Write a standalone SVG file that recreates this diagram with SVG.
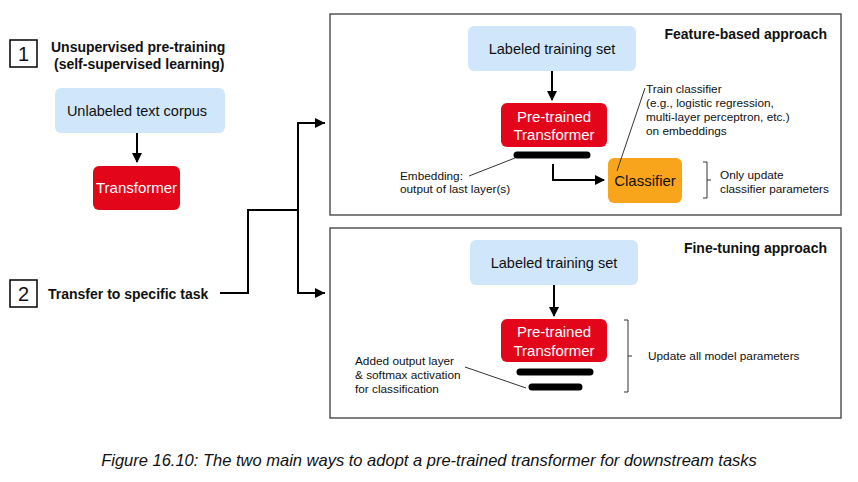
<svg xmlns="http://www.w3.org/2000/svg" width="858" height="482" viewBox="0 0 858 482">
<style>
text{font-family:"Liberation Sans",Arial,sans-serif;fill:#111}
.b{font-weight:bold;font-size:14px}
.s{font-size:11.8px}
.blue{fill:#cfe6fb}
.red{fill:#e3061b}
.wt{fill:#fff;font-size:15px;text-anchor:middle}
.pane{fill:#fff;stroke:#555;stroke-width:1.5}
.ln{fill:none;stroke:#000;stroke-width:2}
.thin{fill:none;stroke:#333;stroke-width:1}
.bar{stroke:#000;stroke-width:7;stroke-linecap:round}
</style>
<defs><marker id="ah" viewBox="0 0 10 10" refX="9" refY="5" markerWidth="5" markerHeight="5" orient="auto"><path d="M0,0L10,5L0,10z" fill="#000"/></marker></defs>
<rect width="858" height="482" fill="#fff"/>
<rect class="pane" x="330" y="14" width="511" height="201"/>
<rect class="pane" x="330" y="228" width="511" height="190"/>
<g id="step1"><rect x="10" y="40" width="27" height="27" fill="none" stroke="#000" stroke-width="1.5"/><text x="23.5" y="61" font-size="20" text-anchor="middle">1</text>
<text class="b" x="51" y="52">Unsupervised pre-training</text><text class="b" x="54" y="69">(self-supervised learning)</text></g>
<g id="corpus"><rect class="blue" x="55" y="88" width="170" height="45" rx="6"/><text x="137" y="116" font-size="14.5" text-anchor="middle">Unlabeled text corpus</text></g>
<g id="transformer"><rect class="red" x="93" y="166" width="87" height="44" rx="6"/><text class="wt" x="136.5" y="193" font-size="14">Transformer</text></g>
<g id="step2"><rect x="10" y="280" width="27" height="27" fill="none" stroke="#000" stroke-width="1.5"/><text x="23.5" y="301" font-size="20" text-anchor="middle">2</text>
<text class="b" x="48" y="299">Transfer to specific task</text></g>
<g id="fb"><text class="b" x="827" y="39" text-anchor="end">Feature-based approach</text>
<rect class="blue" x="468" y="26" width="168" height="45" rx="6"/><text x="552" y="54" font-size="14.5" text-anchor="middle">Labeled training set</text>
<rect class="red" x="501" y="103" width="106" height="44" rx="6"/><text class="wt" x="554" y="122">Pre-trained</text><text class="wt" x="554" y="140">Transformer</text>
<line class="bar" x1="517" y1="155" x2="587" y2="155"/>
<rect x="608" y="158" width="74" height="45" rx="6" fill="#f8a51c"/><text x="645" y="186" font-size="15" text-anchor="middle">Classifier</text>
<text class="s" x="400" y="180">Embedding:</text><text class="s" x="400" y="193">output of last layer(s)</text>
<text class="s" x="646" y="93">Train classifier</text><text class="s" x="646" y="107">(e.g., logistic regression,</text><text class="s" x="646" y="121">multi-layer perceptron, etc.)</text><text class="s" x="646" y="135">on embeddings</text>
<path class="thin" d="M703,162h4v36h-4M707,180h4"/>
<text class="s" x="720" y="179">Only update</text><text class="s" x="720" y="193">classifier parameters</text>
<path class="thin" d="M469,176L515,158M617,171L645,88"/></g>
<g id="ft"><text class="b" x="827" y="253" text-anchor="end">Fine-tuning approach</text>
<rect class="blue" x="470" y="240" width="168" height="45" rx="6"/><text x="554" y="268" font-size="14.5" text-anchor="middle">Labeled training set</text>
<rect class="red" x="501" y="319" width="106" height="43" rx="6"/><text class="wt" x="554" y="337">Pre-trained</text><text class="wt" x="554" y="356">Transformer</text>
<line class="bar" x1="520" y1="372" x2="590" y2="372"/><line class="bar" x1="532" y1="387" x2="579" y2="387"/>
<path class="thin" d="M624,320h4v72h-4M628,356h4"/>
<text class="s" x="648" y="360">Update all model parameters</text>
<text class="s" x="355" y="365">Added output layer</text><text class="s" x="355" y="379">&amp; softmax activation</text><text class="s" x="355" y="393">for classification</text>
<path class="thin" d="M465,367L526,388"/></g>
<g id="connectors">
<path class="ln" d="M137,133V162" marker-end="url(#ah)"/>
<path class="ln" d="M552,71V100" marker-end="url(#ah)"/>
<path class="ln" d="M553,164V180H604" marker-end="url(#ah)"/>
<path class="ln" d="M554,285V316" marker-end="url(#ah)"/>
<path class="ln" d="M220,293H248V210H298"/>
<path class="ln" d="M325,123H298V293H325"/>
<path class="ln" d="M298,123H324" marker-end="url(#ah)"/>
<path class="ln" d="M298,293H324" marker-end="url(#ah)"/>
</g>
<text x="429" y="466" font-size="16.5" font-style="italic" text-anchor="middle" font-family="'Open Sans',sans-serif" fill="#222">Figure 16.10: The two main ways to adopt a pre-trained transformer for downstream tasks</text>
</svg>
